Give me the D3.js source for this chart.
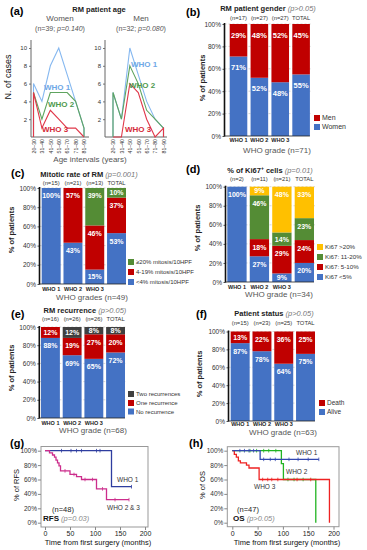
<!DOCTYPE html>
<html>
<head>
<meta charset="utf-8">
<script src="https://cdn.jsdelivr.net/npm/d3@7"></script>
<style>
  body { margin: 0; background: #fff; }
  svg { font-family: "Liberation Sans", Arial, sans-serif; }
</style>
</head>
<body>
<svg id="fig" width="367" height="550"></svg>
<script>
// ---- data ----
const ageGroups = ["20–30", "31–40", "41–50", "51–60", "61–70", "71–80", "81–90"];
const womenWho1 = [6, 4, 8, 10, 7, 4, 1];
const womenWho2 = [5, 2, 5, 5, 5, 4, 1];
const womenWho3 = [5, 1, 3, 2, 1, 1, 0];
const menWho1 = [5, 2, 10, 7, 4, 2, 1];
const menWho2 = [5, 2, 8, 6, 3, 2, 1];
const menWho3 = [0, 0, 6, 5, 2, 0, 1];
const ageTicks = [2, 4, 6, 8, 10];

const gradeCats = ["WHO 1", "WHO 2", "WHO 3", "TOTAL"];
const pctTicks = [0, 20, 40, 60, 80, 100];

const genderN = ["(n=17)", "(n=27)", "(n=27)", "TOTAL"];
const genderWomen = [71, 52, 48, 55];
const genderMen = [29, 48, 52, 45];

const mitoN = ["(n=15)", "(n=21)", "(n=13)", "TOTAL"];
const mitoLow = [100, 43, 15, 53];
const mitoMid = [0, 57, 46, 37];
const mitoHigh = [0, 0, 39, 10];

const ki67N = ["(n=2)", "(n=11)", "(n=21)", "TOTAL"];
const ki67Lt5 = [100, 27, 9, 20];
const ki67From5 = [0, 18, 29, 24];
const ki67From11 = [0, 46, 14, 23];
const ki67Gt20 = [0, 9, 48, 33];

const recN = ["(n=16)", "(n=26)", "(n=26)", "TOTAL"];
const recNone = [88, 69, 65, 72];
const recOne = [12, 19, 27, 20];
const recTwo = [0, 12, 8, 8];

const statusN = ["(n=15)", "(n=23)", "(n=25)", "TOTAL"];
const statusAlive = [87, 78, 64, 75];
const statusDeath = [13, 22, 36, 25];

// Kaplan-Meier step points [months, %]
const monthTicks = [0, 50, 100, 150, 200];
const rfsWho1 = [[0, 100], [133, 50], [173, 50]];
const rfsWho1Cens = [[33, 100], [52, 100], [63, 100], [73, 100], [103, 100], [110, 100], [173, 50]];
const rfsWho23 = [[0, 100], [9, 97], [15, 94], [19, 91], [22, 87], [25, 83], [28, 79], [31, 72],
                  [50, 67], [63, 64], [73, 60], [103, 47], [123, 32], [168, 32]];
const rfsWho23Cens = [[40, 72], [58, 67], [80, 60], [95, 60], [115, 47], [140, 32], [168, 32]];

const osWho1 = [[0, 100], [55, 88], [171, 88]];
const osWho1Cens = [[15, 100], [24, 100], [33, 100], [42, 100], [62, 88], [75, 88], [85, 88], [112, 88], [130, 88], [150, 88], [171, 88]];
const osWho2 = [[0, 100], [97, 82], [101, 60], [165, 0]];
const osWho2Cens = [[35, 100], [48, 100], [62, 100], [72, 100], [86, 100], [110, 60], [122, 60], [140, 60]];
const osWho3 = [[0, 100], [4, 95], [8, 91], [12, 86], [16, 83], [28, 80], [33, 76], [53, 60], [192, 0]];
const osWho3Cens = [[60, 60], [70, 60], [78, 60], [90, 60], [128, 60], [155, 60]];

// ---- colours ----
const BLUE = "#4472c4", RED = "#c00000", GREEN = "#548c35", YELLOW = "#ffc000", GRAY = "#404040";

const svg = d3.select("#fig");

function letter(txt, x, y) {
  svg.append("text").attr("x", x).attr("y", y).attr("font-size", 11).attr("font-weight", "bold").text(txt);
}

function title(x, y, main, p, sup) {
  const t = svg.append("text").attr("x", x).attr("y", y).attr("text-anchor", "middle")
    .attr("font-size", 7.5).attr("fill", "#222");
  t.append("tspan").attr("font-weight", "bold").text(main);
  if (sup) {
    t.append("tspan").attr("font-weight", "bold").attr("font-size", 5).attr("dy", -3).text(sup);
    t.append("tspan").attr("font-weight", "bold").attr("dy", 3).text(" cells");
  }
  t.append("tspan").attr("font-style", "italic").attr("fill", "#777").text(" " + p);
}

// ---- panel (a): age polygons ----
(function () {
  letter("(a)", 10, 15);
  svg.append("text").attr("x", 99).attr("y", 12).attr("text-anchor", "middle")
    .attr("font-size", 7.5).attr("font-weight", "bold").attr("fill", "#222").text("RM patient age");

  const y = d3.scaleLinear().domain([0, 10]).range([137, 48]);
  const panels = [
    { axisX: 31, xr: [33.5, 84], end: 89, sub: "Women", info: "(n=39; ", p: "p=0.140", cx: 60,
      series: [womenWho1, womenWho2, womenWho3],
      labels: [[57, 90], [61, 107], [55, 132]] },
    { axisX: 105, xr: [113, 163.5], end: 167, sub: "Men", info: "(n=32; ", p: "p=0.080", cx: 141,
      series: [menWho1, menWho2, menWho3],
      labels: [[144, 67], [142, 88], [138, 132]] }
  ];
  const colors = ["#86b8f0", "#5fa45f", "#e0384a"];
  const labColors = ["#6fa8e6", "#4f9a4f", "#d42a3a"];

  panels.forEach(pn => {
    svg.append("text").attr("x", pn.cx).attr("y", 21).attr("text-anchor", "middle")
      .attr("font-size", 8).attr("fill", "#555").text(pn.sub);
    const it = svg.append("text").attr("x", pn.cx).attr("y", 31).attr("text-anchor", "middle")
      .attr("font-size", 7).attr("fill", "#555");
    it.append("tspan").text(pn.info);
    it.append("tspan").attr("font-style", "italic").text(pn.p);
    it.append("tspan").text(")");

    const x = d3.scalePoint().domain(ageGroups).range(pn.xr);
    const ax = svg.append("g").attr("transform", `translate(${pn.axisX},0)`)
      .call(d3.axisLeft(y).tickValues(ageTicks).tickSize(2).tickPadding(2));
    ax.select(".domain").remove();
    ax.selectAll("text").attr("font-size", 6).attr("fill", "#333").attr("font-family", null);
    ax.selectAll("line").attr("stroke", "#777");
    svg.append("line").attr("x1", pn.axisX).attr("x2", pn.axisX).attr("y1", 40).attr("y2", 137)
      .attr("stroke", "#666").attr("stroke-width", 1);
    svg.append("line").attr("x1", pn.axisX).attr("x2", pn.end).attr("y1", 137).attr("y2", 137)
      .attr("stroke", "#666").attr("stroke-width", 1);

    const line = d3.line().x(d => d[0]).y(d => d[1]);
    pn.series.forEach((vals, i) => {
      const pts = [[x(ageGroups[0]), y(0)]]
        .concat(vals.map((v, j) => [x(ageGroups[j]), y(v)]))
        .concat([[x(ageGroups[ageGroups.length - 1]), y(0)]]);
      svg.append("path").attr("d", line(pts)).attr("fill", "none")
        .attr("stroke", colors[i]).attr("stroke-width", 1.1);
    });
    pn.labels.forEach((l, i) => {
      svg.append("text").attr("x", l[0]).attr("y", l[1]).attr("text-anchor", "middle")
        .attr("font-size", 8).attr("font-weight", "bold").attr("fill", labColors[i]).text("WHO " + (i + 1));
    });
    ageGroups.forEach(a => {
      svg.append("text").attr("transform", `translate(${x(a) + 0.5},139) rotate(-90)`)
        .attr("text-anchor", "end").attr("dy", "0.35em").attr("font-size", 5.2).attr("fill", "#333").text(a);
    });
  });
  svg.append("text").attr("transform", "translate(11,77) rotate(-90)").attr("text-anchor", "middle")
    .attr("font-size", 9).attr("fill", "#111").text("N. of cases");
  svg.append("text").attr("x", 90).attr("y", 162).attr("text-anchor", "middle")
    .attr("font-size", 8).attr("fill", "#555").text("Age intervals (years)");
})();

// ---- stacked 100% bar panels ----
function drawStacked(c) {
  letter(c.letter[0], c.letter[1], c.letter[2]);
  title(c.titleX, c.titleY, c.title, c.p, c.sup);

  const x = d3.scaleBand().domain(gradeCats).range(c.xr).paddingInner(c.pad).paddingOuter(0);
  const y = d3.scaleLinear().domain([0, 100]).range(c.yr);
  const rows = gradeCats.map((cat, i) => {
    const r = { cat };
    c.series.forEach(s => { r[s.key] = s.values[i]; });
    return r;
  });
  const stack = d3.stack().keys(c.series.map(s => s.key))(rows);
  const g = svg.append("g");

  g.selectAll(".grid").data(pctTicks.slice(1)).join("line")
    .attr("x1", c.axisX).attr("x2", c.xr[1] + 1).attr("y1", d => y(d)).attr("y2", d => y(d))
    .attr("stroke", "#bbb").attr("stroke-width", 0.6).attr("stroke-dasharray", "2,2");

  stack.forEach((layer, li) => {
    g.selectAll(null).data(layer).join("rect")
      .attr("x", d => x(d.data.cat)).attr("width", x.bandwidth())
      .attr("y", d => y(d[1])).attr("height", d => y(d[0]) - y(d[1]))
      .attr("fill", c.series[li].color);
  });
  stack.forEach(layer => {
    g.selectAll(null).data(layer.filter(d => d[1] - d[0] > 0)).join("text")
      .attr("x", d => x(d.data.cat) + x.bandwidth() / 2)
      .attr("y", d => y(d[1]) + Math.min(c.off, (y(d[0]) - y(d[1])) / 2))
      .attr("dy", "0.35em").attr("text-anchor", "middle")
      .attr("font-size", c.fs).attr("font-weight", "bold").attr("fill", "#fff")
      .text(d => (d[1] - d[0]) + "%");
  });

  const ax = svg.append("g").attr("transform", `translate(${c.axisX},0)`)
    .call(d3.axisLeft(y).tickValues(pctTicks).tickFormat(d => d + "%").tickSize(2).tickPadding(1.5));
  ax.select(".domain").remove();
  ax.selectAll("text").attr("font-size", 6.5).attr("fill", "#333").attr("font-family", null);
  ax.selectAll("line").attr("stroke", "#555");
  svg.append("line").attr("x1", c.axisX).attr("x2", c.axisX).attr("y1", y(100) - 1).attr("y2", y(0) + 0.5)
    .attr("stroke", "#111").attr("stroke-width", 1.6);
  svg.append("line").attr("x1", c.axisX).attr("x2", c.xr[1]).attr("y1", y(0)).attr("y2", y(0))
    .attr("stroke", "#222").attr("stroke-width", 0.8);

  c.nLabels.forEach((n, i) => {
    svg.append("text").attr("x", x(gradeCats[i]) + x.bandwidth() / 2).attr("y", c.nY)
      .attr("text-anchor", "middle").attr("font-size", 5.8).attr("fill", "#333").text(n);
  });
  gradeCats.slice(0, 3).forEach(cat => {
    svg.append("text").attr("x", x(cat) + x.bandwidth() / 2).attr("y", c.xLabY)
      .attr("text-anchor", "middle").attr("font-size", 5.5).attr("font-weight", "bold").attr("fill", "#222").text(cat);
  });
  svg.append("text").attr("x", c.xTitleX).attr("y", c.xTitleY).attr("text-anchor", "middle")
    .attr("font-size", 8).attr("fill", "#555").text(c.xTitle);
  svg.append("text").attr("transform", `translate(${c.yLabX},${c.yLabY}) rotate(-90)`)
    .attr("text-anchor", "middle").attr("font-size", 7.5).attr("font-weight", "bold").attr("fill", "#222")
    .text("% of patients");

  c.legend.items.forEach((it, i) => {
    const ly = c.legend.ys[i];
    svg.append("rect").attr("x", c.legend.x).attr("y", ly - 3).attr("width", 6).attr("height", 6).attr("fill", it[1]);
    svg.append("text").attr("x", c.legend.x + 8).attr("y", ly).attr("dy", "0.35em")
      .attr("font-size", c.legend.fs).attr("fill", "#333").text(it[0]);
  });
}

drawStacked({
  letter: ["(b)", 186, 16], title: "RM patient gender", p: "(p>0.05)", titleX: 268, titleY: 11,
  xr: [229.7, 309.9], pad: 0.157, yr: [136, 24], axisX: 224.5, off: 11, fs: 7.5,
  series: [{ key: "w", values: genderWomen, color: BLUE }, { key: "m", values: genderMen, color: RED }],
  nLabels: genderN, nY: 19.5, xLabY: 142, xTitle: "WHO grade (n=71)", xTitleX: 277, xTitleY: 153,
  yLabX: 205, yLabY: 78,
  legend: { x: 314, ys: [118, 127], fs: 7, items: [["Men", RED], ["Women", BLUE]] }
});

drawStacked({
  letter: ["(c)", 11, 177], title: "Mitotic rate of RM", p: "(p=0.001)", titleX: 89, titleY: 177,
  xr: [41.7, 126], pad: 0.13, yr: [284, 188], axisX: 39.5, off: 8, fs: 7,
  series: [{ key: "l", values: mitoLow, color: BLUE }, { key: "m", values: mitoMid, color: RED },
           { key: "h", values: mitoHigh, color: GREEN }],
  nLabels: mitoN, nY: 184.5, xLabY: 290.5, xTitle: "WHO grades (n=49)", xTitleX: 92, xTitleY: 299.5,
  yLabX: 14, yLabY: 230,
  legend: { x: 128, ys: [262, 272, 282], fs: 6,
            items: [["≥20% mitosis/10HPF", GREEN], ["4-19% mitosis/10HPF", RED], ["<4% mitosis/10HPF", BLUE]] }
});

drawStacked({
  letter: ["(d)", 186, 173], title: "% of Ki67", sup: "+", p: "(p=0.01)", titleX: 270, titleY: 172.5,
  xr: [227.3, 314], pad: 0.14, yr: [282, 186.7], axisX: 225.5, off: 8, fs: 7,
  series: [{ key: "a", values: ki67Lt5, color: BLUE }, { key: "b", values: ki67From5, color: RED },
           { key: "c", values: ki67From11, color: GREEN }, { key: "d", values: ki67Gt20, color: YELLOW }],
  nLabels: ki67N, nY: 180.5, xLabY: 288.5, xTitle: "WHO grade (n=34)", xTitleX: 279, xTitleY: 296.5,
  yLabX: 200, yLabY: 228,
  legend: { x: 317, ys: [247, 257, 267, 277], fs: 6.2,
            items: [["Ki67 >20%", YELLOW], ["Ki67: 11-20%", GREEN], ["Ki67: 5-10%", RED], ["Ki67 <5%", BLUE]] }
});

drawStacked({
  letter: ["(e)", 11, 318], title: "RM recurrence", p: "(p>0.05)", titleX: 85, titleY: 313,
  xr: [41, 125], pad: 0.13, yr: [418, 327], axisX: 39.3, off: 8, fs: 7,
  series: [{ key: "n", values: recNone, color: BLUE }, { key: "o", values: recOne, color: RED },
           { key: "t", values: recTwo, color: GRAY }],
  nLabels: recN, nY: 320.5, xLabY: 424.5, xTitle: "WHO grade  (n=68)", xTitleX: 93, xTitleY: 432.5,
  yLabX: 14, yLabY: 368,
  legend: { x: 128, ys: [394, 403, 411.5], fs: 6,
            items: [["Two recurrences", GRAY], ["One recurrence", RED], ["No recurrence", BLUE]] }
});

drawStacked({
  letter: ["(f)", 196, 318], title: "Patient status", p: "(p>0.05)", titleX: 274, titleY: 315.5,
  xr: [230.7, 315], pad: 0.13, yr: [421, 331.5], axisX: 228.5, off: 8, fs: 7,
  series: [{ key: "a", values: statusAlive, color: BLUE }, { key: "d", values: statusDeath, color: RED }],
  nLabels: statusN, nY: 324.5, xLabY: 425.5, xTitle: "WHO grade (n=63)", xTitleX: 283, xTitleY: 434.5,
  yLabX: 202, yLabY: 374,
  legend: { x: 319, ys: [403, 412], fs: 6.5, items: [["Death", RED], ["Alive", BLUE]] }
});

// ---- Kaplan-Meier panels ----
function drawKM(c) {
  letter(c.letter[0], c.letter[1], c.letter[2]);
  const x = d3.scaleLinear().domain([0, 200]).range(c.xr);
  const y = d3.scaleLinear().domain([0, 100]).range([522.7, 450.7]);
  svg.append("rect").attr("x", c.box[0]).attr("y", c.box[1]).attr("width", c.box[2]).attr("height", c.box[3])
    .attr("fill", "none").attr("stroke", "#999").attr("stroke-width", 1);

  const ax = svg.append("g").attr("transform", `translate(${c.box[0]},0)`)
    .call(d3.axisLeft(y).tickValues(pctTicks).tickFormat(d => d + "%").tickSize(3).tickPadding(1));
  ax.select(".domain").remove();
  ax.selectAll("text").attr("font-size", 6.5).attr("fill", "#333").attr("font-family", null);
  ax.selectAll("line").attr("stroke", "#888");
  const bx = svg.append("g").attr("transform", `translate(0,${c.box[1] + c.box[3]})`)
    .call(d3.axisBottom(x).tickValues(monthTicks).tickSize(3).tickPadding(1));
  bx.select(".domain").remove();
  bx.selectAll("text").attr("font-size", 7).attr("fill", "#222").attr("font-family", null);
  bx.selectAll("line").attr("stroke", "#888");

  const line = d3.line().x(d => x(d[0])).y(d => y(d[1])).curve(d3.curveStepAfter);
  c.curves.forEach(cv => {
    svg.append("path").attr("d", line(cv.pts)).attr("fill", "none")
      .attr("stroke", cv.color).attr("stroke-width", 1.3);
    svg.selectAll(null).data(cv.cens).join("line")
      .attr("x1", d => x(d[0])).attr("x2", d => x(d[0]))
      .attr("y1", d => y(d[1]) - 1.8).attr("y2", d => y(d[1]) + 1.8)
      .attr("stroke", cv.color).attr("stroke-width", 0.8);
  });
  c.labels.forEach(l => {
    svg.append("text").attr("x", l[0]).attr("y", l[1]).attr("font-size", 6.5).attr("fill", "#333").text(l[2]);
  });
  svg.append("text").attr("x", c.nPos[0]).attr("y", c.nPos[1]).attr("font-size", 7.5).attr("fill", "#222").text(c.nText);
  const st = svg.append("text").attr("x", c.sPos[0]).attr("y", c.sPos[1]).attr("font-size", 8).attr("fill", "#111");
  st.append("tspan").attr("font-weight", "bold").text(c.sMain);
  st.append("tspan").attr("font-style", "italic").attr("fill", "#888").attr("font-size", 7.5).text(" " + c.sP);

  svg.append("text").attr("transform", `translate(${c.yLabX},485) rotate(-90)`).attr("text-anchor", "middle")
    .attr("font-size", 7.5).attr("fill", "#111").text(c.yLab);
  svg.append("text").attr("x", c.xTitleX).attr("y", 544.5).attr("text-anchor", "middle")
    .attr("font-size", 7.5).attr("fill", "#111").text("Time from first surgery (months)");
}

drawKM({
  letter: ["(g)", 10, 447], xr: [45, 145], box: [41, 446.5, 107, 80.5],
  curves: [
    { pts: rfsWho1, cens: rfsWho1Cens, color: "#2e3d9f" },
    { pts: rfsWho23, cens: rfsWho23Cens, color: "#cc2d8c" }
  ],
  labels: [[117, 481.5, "WHO 1"], [107, 509.5, "WHO 2 & 3"]],
  nText: "(n=48)", nPos: [52, 511.5], sMain: "RFS", sP: "(p=0.03)", sPos: [43, 521],
  yLab: "% of RFS", yLabX: 19, xTitleX: 98
});

drawKM({
  letter: ["(h)", 189, 447], xr: [232.3, 333.5], box: [227.3, 446.7, 111.7, 80],
  curves: [
    { pts: osWho2, cens: osWho2Cens, color: "#22b422" },
    { pts: osWho3, cens: osWho3Cens, color: "#ee2222" },
    { pts: osWho1, cens: osWho1Cens, color: "#3347b0" }
  ],
  labels: [[296, 455, "WHO 1"], [286, 473.5, "WHO 2"], [254, 488.5, "WHO 3"]],
  nText: "(n=47)", nPos: [237, 511.5], sMain: "OS", sP: "(p>0.05)", sPos: [233, 521],
  yLab: "% of OS", yLabX: 205, xTitleX: 287
});
</script>
</body>
</html>
